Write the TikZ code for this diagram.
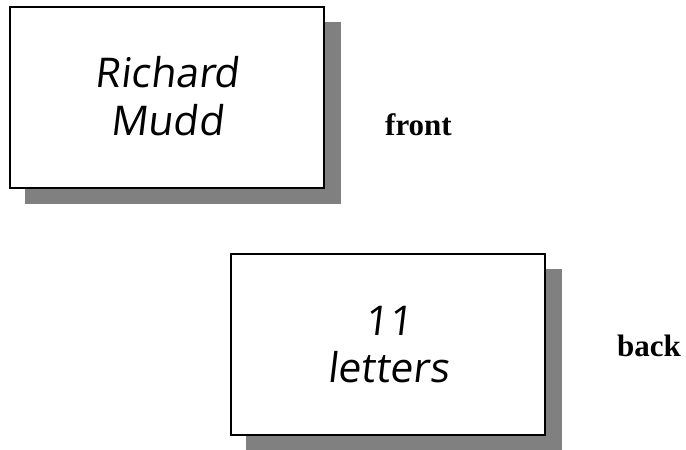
\documentclass[tikz,border=0pt]{standalone}
\usepackage{fontspec}
\setmainfont{Liberation Serif}
\newfontfamily\cardfont[FakeSlant=0.12]{Open Sans}
\begin{document}
\begin{tikzpicture}[x=1pt,y=-1pt,
  card/.style={draw=black, line width=1.8pt, fill=white, inner sep=0pt},
  cardshadow/.style={fill=black!50},
  cardtext/.style={font=\cardfont\fontsize{41}{48}\selectfont, inner sep=0pt, anchor=base},
  sidelabel/.style={font=\bfseries\fontsize{31}{36}\selectfont, inner sep=0pt, anchor=base west}]
\useasboundingbox (0,0) rectangle (686,450);
% front card
\fill[cardshadow] (25,22) rectangle (341,204);
\node[card, minimum width=314pt, minimum height=181pt] (front) at (167,97.5) {};
\node[cardtext] (front1) at (167,87) {Richard};
\node[cardtext] (front2) at (167,135) {Mudd};
\node[sidelabel] (frontlbl) at (385,135) {front};
% back card
\fill[cardshadow] (246,269) rectangle (562,451);
\node[card, minimum width=314pt, minimum height=181pt] (back) at (388,344.5) {};
\node[cardtext] (back1) at (388,335) {11};
\node[cardtext] (back2) at (388,382) {letters};
\node[sidelabel] (backlbl) at (617,356) {back};
\end{tikzpicture}
\end{document}
